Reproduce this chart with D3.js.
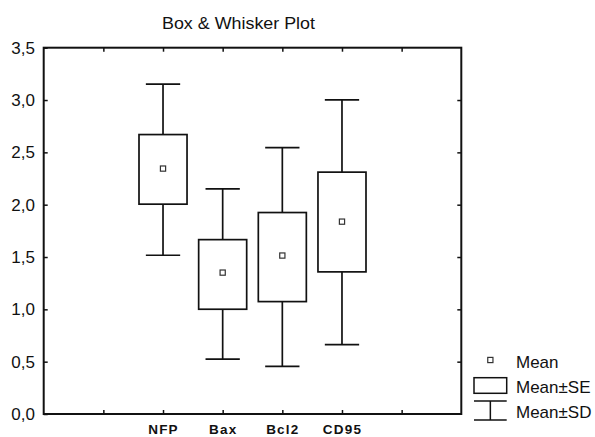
<!DOCTYPE html>
<html><head><meta charset="utf-8">
<script src="https://cdn.jsdelivr.net/npm/d3@7"></script>
<style>
html,body{margin:0;padding:0;background:#fff;}
svg{display:block;font-family:"Liberation Sans",Arial,sans-serif;}
</style></head>
<body><svg id="c" width="595" height="437"></svg>
<script>
const categories = ["NFP", "Bax", "Bcl2", "CD95"];
const means  = [2.345, 1.351, 1.514, 1.838];
const seLow  = [2.005, 1.001, 1.074, 1.358];
const seHigh = [2.670, 1.666, 1.925, 2.311];
const sdLow  = [1.517, 0.525, 0.455, 0.663];
const sdHigh = [3.152, 2.151, 2.546, 3.002];
const yTicks = [0, 0.5, 1.0, 1.5, 2.0, 2.5, 3.0, 3.5];
const xTicks = [1, 2, 3, 4, 5, 6];
const legendLabels = ["Mean", "Mean\u00b1SE", "Mean\u00b1SD"];
const title = "Box & Whisker Plot";

const svg = d3.select("#c");
const L = 43.7, R = 461.3, T = 47.7, B = 414;
const x = d3.scaleLinear().domain([0, 7]).range([L, R]);
const y = d3.scaleLinear().domain([0, 3.5]).range([B, T]);
const step = x(1) - x(0);
const boxW = step * 0.805, capW = step * 0.575;
const fmt = v => d3.format(".1f")(v).replace(".", ",");
const ink = "#111";

// title
svg.append("text").attr("x", 162).attr("y", 28.8)
  .attr("font-size", 17).attr("fill", ink)
  .attr("textLength", 153).attr("lengthAdjust", "spacingAndGlyphs")
  .text(title);

// axes
const gl = svg.append("g").attr("transform", `translate(${L},0)`)
  .call(d3.axisLeft(y).tickValues(yTicks).tickFormat(fmt).tickSizeInner(-4).tickSizeOuter(0).tickPadding(8.7));
gl.selectAll("text").attr("font-size", 17).attr("fill", ink).attr("font-family", "Liberation Sans, Arial");
const gr = svg.append("g").attr("transform", `translate(${R},0)`)
  .call(d3.axisRight(y).tickValues(yTicks.slice(1, -1)).tickFormat("").tickSizeInner(-4).tickSizeOuter(0));
const gb = svg.append("g").attr("transform", `translate(0,${B})`)
  .call(d3.axisBottom(x).tickValues(xTicks)
    .tickFormat(v => categories[v - 2] || "").tickSizeInner(-4).tickSizeOuter(0).tickPadding(10.3));
gb.selectAll("text").attr("font-size", 13.5).attr("font-weight", "bold")
  .attr("letter-spacing", 1.2).attr("fill", ink).attr("font-family", "Liberation Sans, Arial");
const gt = svg.append("g").attr("transform", `translate(0,${T})`)
  .call(d3.axisTop(x).tickValues(xTicks).tickFormat("").tickSizeInner(-4).tickSizeOuter(0));
[gl, gr, gb, gt].forEach(g => {
  g.select(".domain").remove();
  g.selectAll(".tick line").attr("stroke", ink).attr("stroke-width", 1.5);
});

// frame
svg.append("rect").attr("x", L).attr("y", T).attr("width", R - L).attr("height", B - T)
  .attr("fill", "none").attr("stroke", ink).attr("stroke-width", 2);

// boxes
const data = categories.map((c, i) => ({c, i, m: means[i], sl: seLow[i], sh: seHigh[i], dl: sdLow[i], dh: sdHigh[i]}));
const g = svg.append("g").attr("stroke", ink).attr("stroke-width", 1.7).attr("fill", "none");
data.forEach(d => {
  const cx = x(d.i + 2);
  g.append("line").attr("x1", cx).attr("x2", cx).attr("y1", y(d.dh)).attr("y2", y(d.sh));
  g.append("line").attr("x1", cx).attr("x2", cx).attr("y1", y(d.sl)).attr("y2", y(d.dl));
  g.append("line").attr("x1", cx - capW / 2).attr("x2", cx + capW / 2).attr("y1", y(d.dh)).attr("y2", y(d.dh));
  g.append("line").attr("x1", cx - capW / 2).attr("x2", cx + capW / 2).attr("y1", y(d.dl)).attr("y2", y(d.dl));
  g.append("rect").attr("x", cx - boxW / 2).attr("y", y(d.sh)).attr("width", boxW).attr("height", y(d.sl) - y(d.sh))
    .attr("fill", "#fff");
  g.append("rect").attr("x", cx - 2.6).attr("y", y(d.m) - 2.6).attr("width", 5.2).attr("height", 5.2)
    .attr("stroke-width", 1.2).attr("stroke", "#333");
});

// legend
const lg = svg.append("g");
const lx = 474, lw = 32.7, tx = 516;
lg.append("rect").attr("x", lx + lw / 2 - 2.6).attr("y", 360 - 2.6).attr("width", 5.2).attr("height", 5.2)
  .attr("fill", "none").attr("stroke", "#333").attr("stroke-width", 1.2);
lg.append("rect").attr("x", lx).attr("y", 377.7).attr("width", lw).attr("height", 15.6)
  .attr("fill", "none").attr("stroke", ink).attr("stroke-width", 1.5);
lg.append("line").attr("x1", lx).attr("x2", lx + lw).attr("y1", 401).attr("y2", 401).attr("stroke", ink).attr("stroke-width", 1.5);
lg.append("line").attr("x1", lx).attr("x2", lx + lw).attr("y1", 420).attr("y2", 420).attr("stroke", ink).attr("stroke-width", 1.5);
lg.append("line").attr("x1", lx + lw / 2).attr("x2", lx + lw / 2).attr("y1", 401).attr("y2", 420).attr("stroke", ink).attr("stroke-width", 1.5);
const baselines = [367.8, 393, 417.5];
legendLabels.forEach((t, i) => {
  lg.append("text").attr("x", tx).attr("y", baselines[i]).attr("font-size", 17).attr("fill", ink).text(t);
});
</script></body></html>
